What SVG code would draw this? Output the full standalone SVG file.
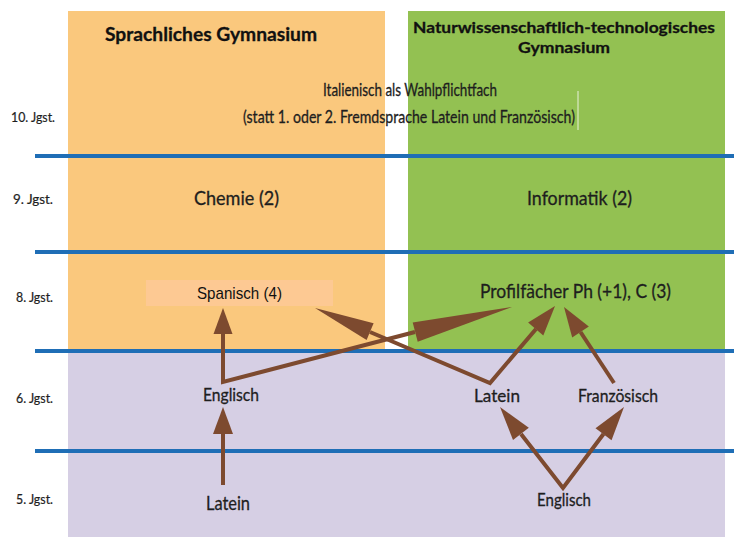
<svg xmlns="http://www.w3.org/2000/svg" width="734" height="537" viewBox="0 0 734 537">
<style>
  .lbl { font-family: Lato, "Open Sans", "DejaVu Sans", sans-serif; fill: #1e1e1e; stroke: #1e1e1e; stroke-width: 0.3; }
  .hd { font-family: Lato, "Open Sans", "DejaVu Sans", sans-serif; font-weight: bold; fill: #111; stroke: #111; stroke-width: 0.3; }
  .row { font-family: Lato, "Open Sans", "DejaVu Sans", sans-serif; font-size: 13px; fill: #1e1e1e; stroke: #1e1e1e; stroke-width: 0.2; }
  .grid { stroke: #1f6eb6; stroke-width: 4; }
  .con { stroke: #7d4a2f; stroke-width: 4; fill: none; stroke-linejoin: miter; }
  .head { fill: #7d4a2f; stroke: none; }
</style>
<rect width="734" height="537" fill="#ffffff"/>
<g id="backgrounds">
  <rect x="68" y="11" width="317" height="340" fill="#fac87d"/>
  <rect x="408" y="11" width="317" height="340" fill="#93c152"/>
  <rect x="68" y="351" width="657" height="186" fill="#d6cfe4"/>
</g>
<g id="gridlines">
  <line class="grid" x1="35" y1="156" x2="734" y2="156"/>
  <line class="grid" x1="35" y1="252" x2="734" y2="252"/>
  <line class="grid" x1="35" y1="351" x2="734" y2="351"/>
  <line class="grid" x1="35" y1="451" x2="734" y2="451"/>
</g>
<g id="row-labels">
  <text class="row" x="11" y="122" textLength="44" lengthAdjust="spacingAndGlyphs">10. Jgst.</text>
  <text class="row" x="13" y="204" textLength="40" lengthAdjust="spacingAndGlyphs">9. Jgst.</text>
  <text class="row" x="16" y="302" textLength="37" lengthAdjust="spacingAndGlyphs">8. Jgst.</text>
  <text class="row" x="16" y="403" textLength="37" lengthAdjust="spacingAndGlyphs">6. Jgst.</text>
  <text class="row" x="16" y="504" textLength="37" lengthAdjust="spacingAndGlyphs">5. Jgst.</text>
</g>
<g id="heading-sprachlich">
  <text class="hd" x="211" y="41" font-size="19" text-anchor="middle" textLength="212" lengthAdjust="spacingAndGlyphs">Sprachliches Gymnasium</text>
</g>
<g id="heading-ntg">
  <text class="hd" x="564" y="33" font-size="16" text-anchor="middle" textLength="302" lengthAdjust="spacingAndGlyphs">Naturwissenschaftlich-technologisches</text>
  <text class="hd" x="564" y="53" font-size="16" text-anchor="middle" textLength="92" lengthAdjust="spacingAndGlyphs">Gymnasium</text>
</g>
<g id="italienisch">
  <text class="lbl" x="410" y="96" font-size="17" text-anchor="middle" textLength="174" lengthAdjust="spacingAndGlyphs">Italienisch als Wahlpflichtfach</text>
  <text class="lbl" x="409" y="123" font-size="17" text-anchor="middle" textLength="332" lengthAdjust="spacingAndGlyphs">(statt 1. oder 2. Fremdsprache Latein und Französisch)</text>
  <line x1="578" y1="91" x2="578" y2="130" stroke="#ffffff" stroke-width="1" opacity="0.8"/>
</g>
<g id="chemie">
  <text class="lbl" x="236.5" y="205" font-size="19" text-anchor="middle" textLength="85" lengthAdjust="spacingAndGlyphs">Chemie (2)</text>
</g>
<g id="informatik">
  <text class="lbl" x="579.5" y="205" font-size="19" text-anchor="middle" textLength="105" lengthAdjust="spacingAndGlyphs">Informatik (2)</text>
</g>
<g id="spanisch">
  <rect x="146" y="280" width="187" height="26" fill="#fdc993"/>
  <text x="239.5" y="299" font-family="'Liberation Sans', Arial, sans-serif" font-size="17" fill="#111" text-anchor="middle" textLength="85" lengthAdjust="spacingAndGlyphs">Spanisch (4)</text>
</g>
<g id="profilfaecher">
  <text class="lbl" x="575.5" y="298" font-size="19" text-anchor="middle" textLength="191" lengthAdjust="spacingAndGlyphs">Profilfächer Ph (+1), C (3)</text>
</g>
<g id="englisch-sg">
  <text class="lbl" x="231" y="401" font-size="17" text-anchor="middle" textLength="56" lengthAdjust="spacingAndGlyphs">Englisch</text>
</g>
<g id="latein-sg">
  <text class="lbl" x="228" y="510" font-size="19" text-anchor="middle" textLength="44" lengthAdjust="spacingAndGlyphs">Latein</text>
</g>
<g id="latein-ntg">
  <text class="lbl" x="497" y="402" font-size="17" text-anchor="middle" textLength="46" lengthAdjust="spacingAndGlyphs">Latein</text>
</g>
<g id="franzoesisch">
  <text class="lbl" x="618" y="402" font-size="17" text-anchor="middle" textLength="80" lengthAdjust="spacingAndGlyphs">Französisch</text>
</g>
<g id="englisch-ntg">
  <text class="lbl" x="564" y="506" font-size="17" text-anchor="middle" textLength="54" lengthAdjust="spacingAndGlyphs">Englisch</text>
</g>
<g id="connectors">
  <!-- Latein (SG) -> Englisch (SG) -->
  <line class="con" x1="223" y1="485" x2="223" y2="434"/>
  <polygon class="head" points="223,407 233,434 213,434"/>
  <!-- Englisch (SG) -> Spanisch -->
  <polyline class="con" points="223,334 223,382 415,332"/>
  <polygon class="head" points="223,308 232.5,334 213.5,334"/>
  <!-- Englisch (SG) -> Profilfaecher (long head) -->
  <polygon class="head" points="512,307 417.7,341.8 412.7,322.4"/>
  <!-- Latein (NTG) -> Spanisch -->
  <polyline class="con" points="370,332 490,383 536,329"/>
  <polygon class="head" points="315,308 373.6,323.3 366.6,339.9"/>
  <!-- Latein (NTG) -> Profilfaecher -->
  <polygon class="head" points="555,306 543.3,335.4 528.1,322.5"/>
  <!-- Franzoesisch -> Profilfaecher -->
  <line class="con" x1="614" y1="383" x2="580.5" y2="332"/>
  <polygon class="head" points="564,307 588.8,326.6 572.2,337.6"/>
  <!-- Englisch (NTG) -> Latein / Franzoesisch -->
  <polyline class="con" points="521,434 563,488 603.5,434"/>
  <polygon class="head" points="500,407 528.8,427.7 513,439.9"/>
  <polygon class="head" points="624,407 611.5,440.2 595.5,428.2"/>
</g>
</svg>
